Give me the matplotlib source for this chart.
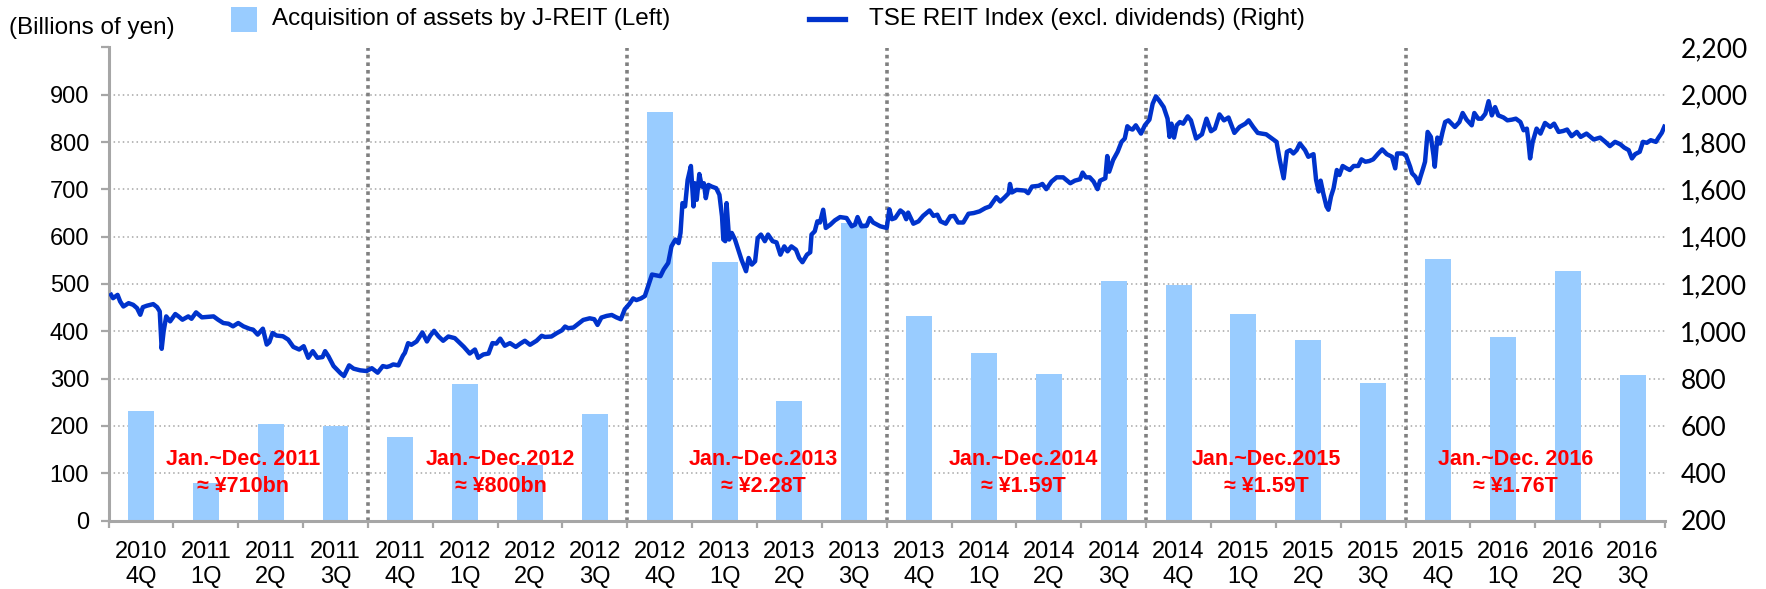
import matplotlib
matplotlib.use("Agg")
import matplotlib.pyplot as plt
from matplotlib.patches import Rectangle
from matplotlib.lines import Line2D
from matplotlib.ticker import FixedLocator, FuncFormatter

# ---------------- data ----------------
quarters = ["2010\n4Q", "2011\n1Q", "2011\n2Q", "2011\n3Q",
            "2011\n4Q", "2012\n1Q", "2012\n2Q", "2012\n3Q",
            "2012\n4Q", "2013\n1Q", "2013\n2Q", "2013\n3Q",
            "2013\n4Q", "2014\n1Q", "2014\n2Q", "2014\n3Q",
            "2014\n4Q", "2015\n1Q", "2015\n2Q", "2015\n3Q",
            "2015\n4Q", "2016\n1Q", "2016\n2Q", "2016\n3Q"]

# Acquisition of assets by J-REIT, billions of yen per quarter
acquisitions = [231, 80, 205, 200, 176, 288, 118, 226, 863, 546, 252, 630,
                433, 355, 310, 506, 497, 436, 381, 290, 552, 388, 527, 307]

# TSE REIT Index (excl. dividends); position measured in quarters from start of 2010 4Q
reit_qpos = [
    0.04, 0.07, 0.14, 0.18, 0.23, 0.31, 0.38, 0.44, 0.49, 0.53, 0.59, 0.69, 0.75, 0.79, 0.82, 0.85,
    0.89, 0.95, 1.03, 1.08, 1.14, 1.23, 1.28, 1.35, 1.44, 1.62, 1.69, 1.77, 1.85, 1.92, 2.00, 2.08,
    2.18, 2.23, 2.30, 2.38, 2.44, 2.48, 2.53, 2.59, 2.69, 2.77, 2.85, 2.94, 3.01, 3.08, 3.15, 3.22,
    3.30, 3.34, 3.39, 3.47, 3.53, 3.58, 3.63, 3.71, 3.78, 3.88, 3.98, 4.06, 4.15, 4.23, 4.29,
    4.34, 4.39, 4.47, 4.54, 4.57, 4.62, 4.67, 4.75, 4.84, 4.91, 4.96, 5.02, 5.09, 5.16, 5.24, 5.34,
    5.42, 5.48, 5.57, 5.65, 5.70, 5.78, 5.86, 5.92, 5.98, 6.04, 6.11, 6.19, 6.28, 6.35, 6.42, 6.50,
    6.60, 6.68, 6.73, 6.83, 6.91, 6.99, 7.04, 7.09, 7.17, 7.24, 7.32, 7.42, 7.49, 7.54, 7.60, 7.68,
    7.76, 7.83, 7.90, 7.96, 8.03, 8.09, 8.14, 8.21,
    8.27, 8.32, 8.38, 8.45, 8.51, 8.56, 8.63, 8.68, 8.74, 8.79, 8.82, 8.85, 8.89, 8.93, 8.98, 9.02,
    9.04, 9.07, 9.11, 9.15, 9.18, 9.21, 9.25, 9.30, 9.37, 9.42, 9.46, 9.48, 9.51, 9.53, 9.57, 9.61,
    9.66, 9.71, 9.76, 9.83, 9.87, 9.92, 9.97, 10.01, 10.06, 10.12, 10.17, 10.24, 10.30, 10.36, 10.42,
    10.47, 10.53, 10.60, 10.65, 10.70, 10.77, 10.82, 10.84, 10.89, 10.93, 10.97, 11.02, 11.06, 11.13,
    11.20, 11.28, 11.38, 11.46, 11.51, 11.55, 11.61, 11.69, 11.74, 11.79, 11.90, 12.00, 12.04, 12.08,
    12.13, 12.21,
    12.26, 12.30, 12.33, 12.41, 12.49, 12.56, 12.66, 12.72, 12.78, 12.83, 12.91, 12.98, 13.04, 13.10,
    13.18, 13.26, 13.34, 13.43, 13.52, 13.59, 13.69, 13.75, 13.82, 13.88, 13.90, 13.93, 14.00, 14.13,
    14.18, 14.24, 14.34, 14.40, 14.46, 14.54, 14.62, 14.72, 14.83, 14.90, 14.98, 15.02, 15.07, 15.13,
    15.19, 15.25, 15.29, 15.37, 15.40, 15.43, 15.49, 15.56, 15.62, 15.67, 15.71, 15.75, 15.79, 15.84,
    15.92, 15.98, 16.05, 16.10, 16.15, 16.20,
    16.27, 16.33, 16.36, 16.39, 16.43, 16.47, 16.52, 16.57, 16.64, 16.69, 16.77, 16.86, 16.93, 17.00,
    17.06, 17.13, 17.20, 17.27, 17.36, 17.44, 17.53, 17.58, 17.65, 17.72, 17.78, 17.85, 17.94, 18.01,
    18.06, 18.12, 18.17, 18.22, 18.27, 18.32, 18.37, 18.45, 18.50, 18.58, 18.62, 18.66, 18.69, 18.73,
    18.78, 18.81, 18.85, 18.89, 18.94, 18.98, 19.03, 19.09, 19.14, 19.20, 19.27, 19.32, 19.38, 19.44,
    19.50, 19.58, 19.64, 19.71, 19.79, 19.84, 19.87, 19.96, 20.01, 20.07, 20.10, 20.15, 20.20, 20.23,
    20.27, 20.30, 20.34, 20.39, 20.43, 20.45, 20.49, 20.53, 20.57, 20.61, 20.66, 20.71, 20.76, 20.83,
    20.88, 20.94, 21.02, 21.06, 21.12, 21.17, 21.23, 21.28, 21.33, 21.38, 21.43, 21.51, 21.57, 21.64,
    21.70, 21.77, 21.82, 21.87, 21.89, 21.92, 21.96, 22.02, 22.08, 22.15, 22.23, 22.29, 22.36, 22.43,
    22.49, 22.56, 22.64, 22.70, 22.79, 22.90, 23.00, 23.08, 23.15, 23.23, 23.31, 23.37, 23.44, 23.49,
    23.54, 23.61, 23.66, 23.72, 23.78, 23.86, 23.90, 23.95, 23.99,
]
reit_index = [
    1154, 1140, 1154, 1126, 1105, 1119, 1112, 1098, 1070, 1102, 1108, 1115, 1102, 1084, 926, 1000,
    1063, 1042, 1073, 1063, 1049, 1063, 1053, 1080, 1059, 1063, 1049, 1035, 1032, 1021, 1035, 1021,
    1010, 1007, 986, 1011, 944, 954, 993, 982, 979, 965, 934, 923, 937, 888, 916, 888,
    891, 916, 895, 853, 836, 822, 811, 856, 842, 835, 832, 844, 825, 853, 849,
    853, 860, 856, 897, 909, 950, 943, 957, 995, 957, 981, 1002, 978, 960, 978, 971,
    950, 934, 906, 923, 888, 902, 906, 950, 948, 969, 939, 950, 934, 948, 960, 943,
    960, 981, 976, 978, 992, 1004, 1020, 1013, 1016, 1031, 1048, 1055, 1051, 1027, 1058, 1065,
    1069, 1059, 1051, 1093, 1115, 1139, 1132, 1139,
    1149, 1191, 1240, 1236, 1233, 1261, 1289, 1359, 1388, 1373, 1416, 1542, 1528, 1640, 1699, 1528,
    1626, 1556, 1665, 1612, 1626, 1563, 1619, 1612, 1605, 1577, 1486, 1388, 1381, 1542, 1388, 1416,
    1388, 1345, 1303, 1254, 1310, 1282, 1296, 1394, 1409, 1381, 1409, 1381, 1376, 1324, 1359,
    1338, 1359, 1345, 1310, 1292, 1324, 1334, 1409, 1423, 1465, 1460, 1514, 1437, 1451,
    1469, 1483, 1479, 1444, 1451, 1483, 1444, 1446, 1479, 1460, 1444, 1437, 1516, 1474,
    1479, 1511,
    1500, 1474, 1502, 1455, 1465, 1488, 1511, 1488, 1493, 1465, 1455, 1486, 1488, 1460,
    1460, 1497, 1500, 1507, 1521, 1528, 1567, 1549, 1567, 1584, 1623, 1587, 1598, 1595,
    1584, 1612, 1615, 1623, 1601, 1633, 1651, 1651, 1626, 1637, 1643, 1671, 1651, 1651,
    1633, 1601, 1637, 1647, 1741, 1675, 1724, 1759, 1801, 1815, 1867, 1857, 1853, 1871,
    1836, 1871, 1895, 1962, 1993, 1976,
    1948, 1899, 1822, 1878, 1819, 1871, 1885, 1878, 1909, 1892, 1815, 1833, 1899, 1846,
    1857, 1917, 1892, 1904, 1839, 1864, 1878, 1892, 1864, 1839, 1836, 1833, 1815, 1801,
    1724, 1647, 1759, 1766, 1752, 1766, 1794, 1766, 1738, 1749, 1640, 1591, 1637, 1584,
    1528, 1514, 1570, 1605, 1682, 1661, 1699, 1689, 1682, 1699, 1699, 1727, 1717, 1720,
    1727, 1752, 1769, 1749, 1738, 1689, 1752, 1752, 1741, 1696, 1668, 1654, 1626, 1654,
    1689, 1717, 1843, 1822, 1745, 1696, 1819, 1794, 1843, 1885, 1892, 1878, 1864, 1885,
    1923, 1895, 1871, 1923, 1899, 1899, 1920, 1973, 1913, 1948, 1913, 1904, 1892, 1895,
    1899, 1885, 1850, 1857, 1815, 1731, 1801, 1857, 1836, 1881, 1864, 1878, 1843, 1847,
    1853, 1825, 1843, 1822, 1836, 1811, 1819, 1801, 1783, 1801, 1791, 1777, 1766, 1731,
    1749, 1759, 1801, 1797, 1808, 1801, 1819, 1839, 1865,
]

# yearly totals (each block runs from 4Q of the prior year to 3Q)
year_labels = ["Jan.~Dec. 2011\n≈ ¥710bn", "Jan.~Dec.2012\n≈ ¥800bn",
               "Jan.~Dec.2013\n≈ ¥2.28T", "Jan.~Dec.2014\n≈ ¥1.59T",
               "Jan.~Dec.2015\n≈ ¥1.59T", "Jan.~Dec. 2016\n≈ ¥1.76T"]
year_label_pos = [2.07, 6.05, 10.1, 14.1, 17.85, 21.7]
year_breaks = [4, 8, 12, 16, 20]

left_ticks = list(range(0, 1001, 100))
right_ticks = list(range(200, 2201, 200))

# ---------------- style ----------------
BAR = "#99CCFF"
LINE = "#0033CC"
AXIS_GREY = "#A6A6A6"
SEP_GREY = "#808080"
SANS = ["Liberation Sans", "DejaVu Sans"]

plt.rcParams["font.family"] = SANS

W, H = 1766, 589
fig = plt.figure(figsize=(W / 100, H / 100), dpi=100)
ax = fig.add_axes([108.5 / W, 1 - 520.5 / H, (1665 - 108.5) / W, (520.5 - 47.5) / H])

n = len(quarters)
centers = [i + 0.5 for i in range(n)]
ax.bar(centers, acquisitions, width=0.4, color=BAR, zorder=2)

ax.set_xlim(0, n)
ax.set_ylim(0, 1000)

# horizontal dotted grid
for v in left_ticks[1:]:
    ax.axhline(v, color=AXIS_GREY, lw=1.1, ls=(0, (1, 2)), zorder=1)

# year separators
for b in year_breaks:
    ax.axvline(b, color=SEP_GREY, lw=2.6, ls=(0, (1, 1.1)), zorder=1.5)

# axes styling
for s in ["top", "right"]:
    ax.spines[s].set_visible(False)
for s in ["left", "bottom"]:
    ax.spines[s].set_color(AXIS_GREY)
    ax.spines[s].set_linewidth(2.2)

ax.yaxis.set_major_locator(FixedLocator(left_ticks))
ax.set_yticklabels([str(v) if v < 1000 else "" for v in left_ticks])
ax.tick_params(axis="y", direction="out", length=6, width=1.6, color=AXIS_GREY,
               labelsize=17, pad=8)

ax.xaxis.set_major_locator(FixedLocator(list(range(n + 1))))
ax.xaxis.set_major_formatter(FuncFormatter(lambda x, p: ""))
ax.xaxis.set_minor_locator(FixedLocator(centers))
ax.set_xticklabels(quarters, minor=True)
ax.tick_params(axis="x", which="major", direction="out", length=5, width=1.6,
               color=AXIS_GREY)
ax.tick_params(axis="x", which="minor", length=0, labelsize=17, pad=15)
for t in ax.get_xticklabels(minor=True):
    t.set_linespacing(1.18)

# yearly total annotations
for x, txt in zip(year_label_pos, year_labels):
    ax.text(x, 100, txt, ha="center", va="center", color="#FF0000",
            fontsize=15.5, fontweight="bold", linespacing=1.35, zorder=5,
            family=SANS)

# right axis: REIT index
ax2 = ax.twinx()
ax2.plot(reit_qpos, reit_index, color=LINE, lw=3.2, solid_joinstyle="round", zorder=4)
ax2.set_ylim(200, 2200)
ax2.set_xlim(0, n)
for s in ax2.spines.values():
    s.set_visible(False)
ax2.yaxis.set_major_locator(FixedLocator(right_ticks))
ax2.yaxis.set_major_formatter(FuncFormatter(lambda v, p: f"{int(v):,}"))
ax2.tick_params(axis="y", length=0, labelsize=19, pad=11)
for t in ax2.get_yticklabels():
    t.set_family(["Lato", "DejaVu Sans"])

# unit label and legend at the top
fig.text(9 / W, 1 - 28 / H, "(Billions of yen)", ha="left", va="center", fontsize=17.5)

fig.patches.append(Rectangle((231 / W, 1 - 32 / H), 26 / W, 25 / H,
                             transform=fig.transFigure, facecolor=BAR, edgecolor="none"))
fig.text(272 / W, 1 - 19 / H, "Acquisition of assets by J-REIT (Left)",
         ha="left", va="center", fontsize=17.5)
fig.lines.append(Line2D([809 / W, 845 / W], [1 - 19 / H, 1 - 19 / H],
                        transform=fig.transFigure, color=LINE, lw=3.8))
fig.text(869 / W, 1 - 19 / H, "TSE REIT Index (excl. dividends) (Right)",
         ha="left", va="center", fontsize=17.5)

fig.savefig("out.png", dpi=100)
